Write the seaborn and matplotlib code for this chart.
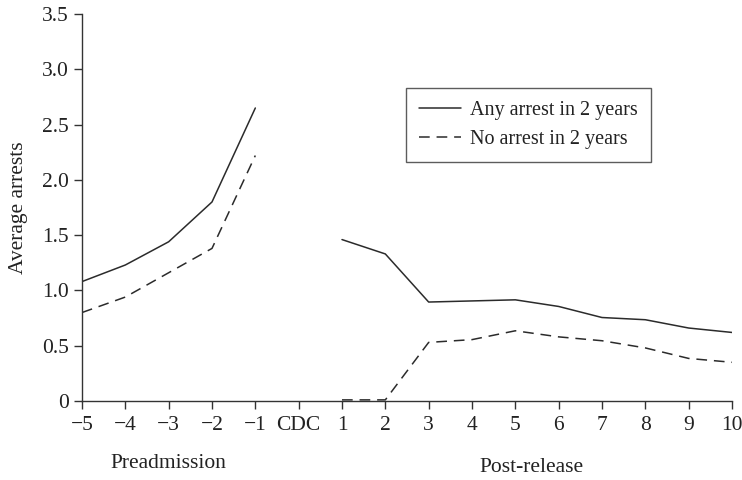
import matplotlib
matplotlib.use("Agg")
import matplotlib.pyplot as plt
import seaborn as sns
import numpy as np
import pandas as pd

categories = ["-5", "-4", "-3", "-2", "-1", "CDC", "1", "2", "3", "4", "5", "6", "7", "8", "9", "10"]
tick_labels = ["\u22125", "\u22124", "\u22123", "\u22122", "\u22121", "CDC", "1", "2", "3", "4", "5", "6", "7", "8", "9", "10"]
any_arrest = [1.08, 1.23, 1.44, 1.80, 2.65, np.nan, 1.46, 1.33, 0.895, 0.905, 0.915, 0.855, 0.755, 0.735, 0.66, 0.62]
no_arrest = [0.80, 0.94, 1.16, 1.38, 2.22, np.nan, 0.01, 0.01, 0.53, 0.555, 0.635, 0.58, 0.545, 0.48, 0.385, 0.35]
series_names = ["Any arrest in 2 years", "No arrest in 2 years"]
y_ticks = [0, 0.5, 1.0, 1.5, 2.0, 2.5, 3.0, 3.5]
y_tick_labels = ["0", "0.5", "1.0", "1.5", "2.0", "2.5", "3.0", "3.5"]

sns.set_style("ticks")
plt.rcParams["font.family"] = ["Liberation Serif", "DejaVu Serif"]
plt.rcParams["axes.linewidth"] = 1.0

FS = 15.5
LFS = 14.5

pos = np.arange(len(categories))
df = pd.DataFrame({
    "pos": np.concatenate([pos, pos]),
    "value": any_arrest + no_arrest,
    "series": [series_names[0]] * len(pos) + [series_names[1]] * len(pos),
})

fig = plt.figure(figsize=(7.42, 4.8), dpi=100)
ax = fig.add_axes([0.1105, 0.1646, 0.876, 0.8062])

for name, ls in zip(series_names, ["-", (0, (7, 4.5))]):
    sub = df[df["series"] == name]
    ax.plot(sub["pos"], sub["value"], color="#2b2b2b", lw=1.1, linestyle=ls, label=name)

ax.set_xlim(0, len(categories) - 1)
ax.set_ylim(0, 3.5)
ax.set_xticks(pos)
ax.set_xticklabels(tick_labels, fontsize=FS, color="#222222")
ax.set_yticks(y_ticks)
ax.set_yticklabels(y_tick_labels, fontsize=FS, color="#222222")
ax.tick_params(axis="both", direction="out", length=6, width=1.0, colors="#333333", labelcolor="#222222")
ax.tick_params(axis="x", pad=5)
for s in ["top", "right"]:
    ax.spines[s].set_visible(False)
for s in ["left", "bottom"]:
    ax.spines[s].set_color("#333333")

ax.set_ylabel("Average arrests", fontsize=FS, color="#222222", labelpad=10)

fig.text(168 / 742, 1 - 463 / 480, "Preadmission", ha="center", va="center", fontsize=FS, color="#222222")
fig.text(531 / 742, 1 - 468 / 480, "Post-release", ha="center", va="center", fontsize=FS, color="#222222")

leg = ax.legend(loc="upper left", bbox_to_anchor=(0.498, 0.809), fontsize=LFS, frameon=True,
                fancybox=False, edgecolor="#333333", handlelength=2.1, borderpad=0.65,
                labelspacing=0.5, handletextpad=0.45, borderaxespad=0)
leg.get_frame().set_linewidth(1.0)
for t in leg.get_texts():
    t.set_color("#222222")

fig.savefig("out.png", dpi=100, facecolor="white")
